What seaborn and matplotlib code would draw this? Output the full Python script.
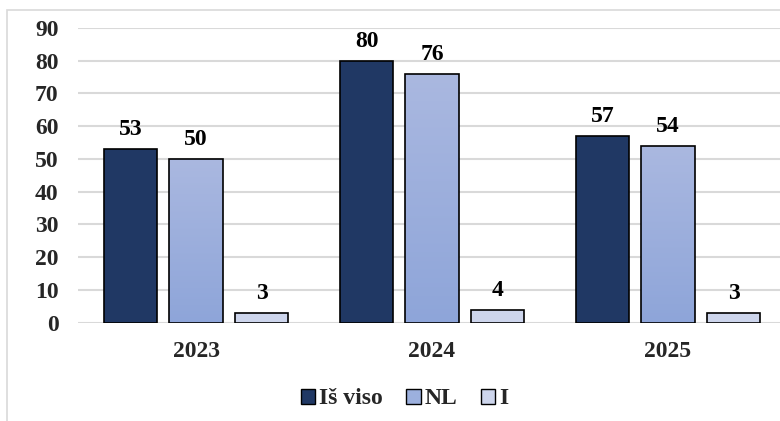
import numpy as np
import pandas as pd
import matplotlib
matplotlib.use("Agg")
import matplotlib.pyplot as plt
from matplotlib.patches import Rectangle, Patch
import seaborn as sns

years = ["2023", "2024", "2025"]
series_names = ["Iš viso", "NL", "I"]
total_vals = [53, 80, 57]
nl_vals = [50, 76, 54]
i_vals = [3, 4, 3]
y_ticks = [0, 10, 20, 30, 40, 50, 60, 70, 80, 90]

df = pd.DataFrame({
    "year": years * 3,
    "series": [series_names[0]] * 3 + [series_names[1]] * 3 + [series_names[2]] * 3,
    "value": total_vals + nl_vals + i_vals,
})

sns.set_theme(style="white")
plt.rcParams["font.family"] = ["Liberation Serif", "DejaVu Serif"]
plt.rcParams["font.weight"] = "bold"

FS = 17
colors = {"Iš viso": "#203864", "NL": "#9CB0DE", "I": "#CDD5EC"}
fig = plt.figure(figsize=(7.8, 4.21), dpi=100)
ax = fig.add_axes([78 / 780, 1 - 322.7 / 421, 708 / 780, (322.7 - 28) / 421])

sns.barplot(data=df, x="year", y="value", hue="series", order=years,
            hue_order=series_names, palette=colors, saturation=1, width=0.8325, gap=0.19,
            edgecolor="black", linewidth=1.2, legend=False, ax=ax, zorder=3)

ax.set_ylim(0, 90)
ax.set_yticks(y_ticks)
ax.set_xlim(-0.5, 2.5)
ax.grid(axis="y", color="#D9D9D9", linewidth=1.5, zorder=0)
ax.set_axisbelow(True)
for s in ax.spines.values():
    s.set_visible(False)
ax.set_xlabel("")
ax.set_ylabel("")
ax.tick_params(axis="y", length=0, pad=14, labelsize=FS)
ax.tick_params(axis="x", length=0, pad=13, labelsize=FS)
for lab in ax.get_xticklabels() + ax.get_yticklabels():
    lab.set_fontweight("bold")

# gradient on NL bars
nl_container = ax.containers[1]
top = np.array([170, 184, 224]) / 255
bot = np.array([142, 165, 217]) / 255
grad = np.linspace(0, 1, 256)[:, None]
img = top[None, None, :] * (1 - grad[..., None]) + bot[None, None, :] * grad[..., None]
for p in nl_container.patches:
    x0, y0 = p.get_x(), p.get_y()
    w, h = p.get_width(), p.get_height()
    im = ax.imshow(img, extent=[x0, x0 + w, y0, y0 + h], origin="upper",
                   aspect="auto", zorder=2.5)
    im.set_clip_path(p)
    p.set_facecolor("none")
    p.set_zorder(4)
ax.set_xlim(-0.5, 2.5)
ax.set_ylim(0, 90)

for c in ax.containers:
    ax.bar_label(c, padding=6.5, fontsize=FS, fontweight="bold", color="black")

handles = [Patch(facecolor=colors[n], edgecolor="black", linewidth=1.0) for n in series_names]
fig.legend(handles, series_names, loc="center", bbox_to_anchor=(404.5 / 780, 1 - 399 / 421),
           ncol=3, frameon=False, handlelength=0.6, handleheight=0.6,
           handletextpad=0.17, columnspacing=1.0, prop={"weight": "bold", "size": FS})

border = Rectangle((7 / 780, -0.1), 1.2, 1 - 10 / 421 + 0.1, transform=fig.transFigure,
                   facecolor="none", edgecolor="#D9D9D9", linewidth=1.2)
fig.patches.append(border)

fig.savefig("out.png", dpi=100)
